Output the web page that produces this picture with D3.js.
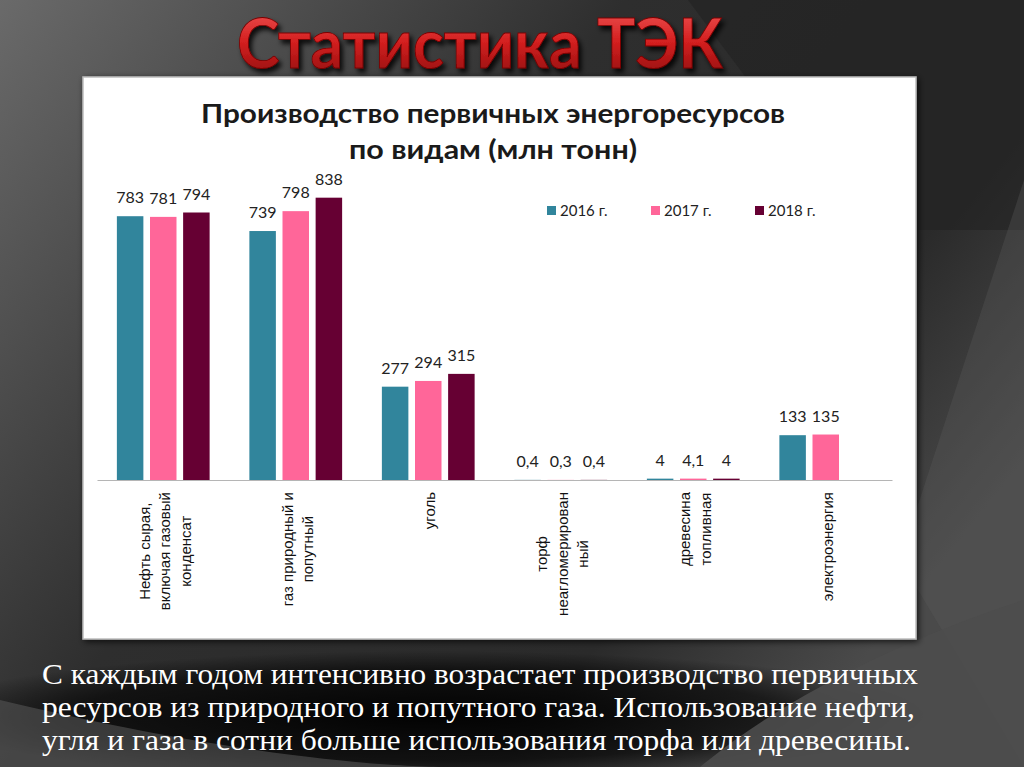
<!DOCTYPE html>
<html><head><meta charset="utf-8">
<script src="https://cdn.jsdelivr.net/npm/d3@7"></script>
<style>html,body{margin:0;padding:0;background:#333;overflow:hidden}</style>
</head><body>
<svg id="c" width="1024" height="767"></svg>
<script>
// ---- data ----
const categories = ["Нефть сырая, включая газовый конденсат","газ природный и попутный","уголь","торф неагломерированный","древесина топливная","электроэнергия"];
const categoryLines = [["Нефть сырая,","включая газовый","конденсат"],["газ природный и","попутный"],["уголь"],["торф","неагломерирован","ный"],["древесина","топливная"],["электроэнергия"]];
const years = ["2016 г.","2017 г.","2018 г."];
const values2016 = [783, 739, 277, 0.4, 4, 133];
const values2017 = [781, 798, 294, 0.3, 4.1, 135];
const values2018 = [794, 838, 315, 0.4, 4, null];
const seriesValues = [values2016, values2017, values2018];
const colors = ["#31859C", "#FF6699", "#660033"];
const slideTitle = "Статистика ТЭК";
const chartTitle = ["Производство первичных энергоресурсов", "по видам (млн тонн)"];
const paragraph = ["С каждым годом интенсивно возрастает производство первичных",
  "ресурсов из природного и попутного газа. Использование нефти,",
  "угля и газа в сотни больше использования торфа или древесины."];

const svg = d3.select("#c");
const defs = svg.append("defs");

// background gradients
const bg = defs.append("linearGradient").attr("id","bg").attr("x1","0").attr("y1","0").attr("x2","1").attr("y2","0.6");
bg.append("stop").attr("offset","0").attr("stop-color","#6a6a6a");
bg.append("stop").attr("offset","0.45").attr("stop-color","#2e2e2e");
bg.append("stop").attr("offset","0.8").attr("stop-color","#2a2a2a");
bg.append("stop").attr("offset","1").attr("stop-color","#4a4a4a");
const sw = defs.append("radialGradient").attr("id","sw").attr("cx","0.42").attr("cy","0.82").attr("r","0.5")
  .attr("gradientTransform","translate(0.42,0.82) scale(1,0.45) translate(-0.42,-0.82)");
sw.append("stop").attr("offset","0").attr("stop-color","#000").attr("stop-opacity","0.95");
sw.append("stop").attr("offset","0.7").attr("stop-color","#000").attr("stop-opacity","0.6");
sw.append("stop").attr("offset","1").attr("stop-color","#000").attr("stop-opacity","0");
const red = defs.append("linearGradient").attr("id","red").attr("x1","0").attr("y1","0").attr("x2","0").attr("y2","1");
red.append("stop").attr("offset","0").attr("stop-color","#f25a5a");
red.append("stop").attr("offset","0.5").attr("stop-color","#d42020");
red.append("stop").attr("offset","1").attr("stop-color","#8a0c0c");
const sh = defs.append("filter").attr("id","sh").attr("x","-10%").attr("y","-20%").attr("width","130%").attr("height","160%");
sh.append("feDropShadow").attr("dx",3).attr("dy",4).attr("stdDeviation",2.5).attr("flood-color","#000").attr("flood-opacity",0.85);
const psh = defs.append("filter").attr("id","psh").attr("x","-5%").attr("y","-5%").attr("width","110%").attr("height","110%");
psh.append("feDropShadow").attr("dx",2).attr("dy",2).attr("stdDeviation",3).attr("flood-color","#000").attr("flood-opacity",0.7);

svg.append("rect").attr("width",1024).attr("height",767).attr("fill","url(#bg)");
// dark diagonal top-right
svg.append("path").attr("d","M688,0 L1024,0 L1024,230 L860,230 Z").attr("fill","#202020").attr("opacity",0.55);
// lighter right strip lower
svg.append("path").attr("d","M1024,180 L900,560 L1024,767 Z").attr("fill","#5a5a5a").attr("opacity",0.35);
// bottom swoosh
svg.append("rect").attr("x",0).attr("y",480).attr("width",1024).attr("height",287).attr("fill","url(#sw)");
svg.append("path").attr("d","M0,700 C 250,760 400,767 450,767 L0,767 Z").attr("fill","#555").attr("opacity",0.6);
svg.append("path").attr("d","M1024,600 C 900,640 780,700 700,767 L1024,767 Z").attr("fill","#4c4c4c").attr("opacity",0.9);

// slide title
const st = svg.append("text").attr("x",480).attr("y",68).attr("text-anchor","middle")
  .attr("font-family","Lato, 'DejaVu Sans', sans-serif").attr("font-weight","bold").attr("font-size",68)
  .attr("fill","url(#red)").attr("stroke","#7a0000").attr("stroke-width",0.8)
  .attr("filter","url(#sh)").text(slideTitle);
st.attr("textLength",486).attr("lengthAdjust","spacingAndGlyphs");

// white panel
svg.append("rect").attr("x",83).attr("y",77).attr("width",833).attr("height",562)
  .attr("fill","#fff").attr("stroke","#bdbdbd").attr("stroke-width",1.5).attr("filter","url(#psh)");

// chart title
const ctY = [123, 159], ctW = [584, 288];
chartTitle.forEach((t,i)=>{
  svg.append("text").attr("x",493).attr("y",ctY[i]).attr("text-anchor","middle")
    .attr("font-family","Lato, 'Open Sans', sans-serif").attr("font-weight","bold").attr("font-size",27)
    .attr("fill","#1a1a1a").attr("textLength",ctW[i]).attr("lengthAdjust","spacingAndGlyphs").text(t);
});

// scales
const x0 = d3.scaleBand().domain(categories).range([97, 892]).padding(0);
const x1 = d3.scaleBand().domain(years).range([0, x0.bandwidth()]).paddingInner(0.2).paddingOuter(0.6);
const y = d3.scaleLinear().domain([0, 900]).range([480, 480 - 0.3369*900]);

const fmt = v => String(v).replace(".", ",");

const g = svg.append("g");
years.forEach((yr, si)=>{
  const data = categories.map((c,i)=>({c, v: seriesValues[si][i]})).filter(d=>d.v!==null);
  g.selectAll(null).data(data).enter().append("rect")
    .attr("x", d=>x0(d.c)+x1(yr)).attr("y", d=>y(d.v))
    .attr("width", x1.bandwidth()).attr("height", d=>y(0)-y(d.v))
    .attr("fill", colors[si]);
  g.selectAll(null).data(data).enter().append("text")
    .attr("x", d=>x0(d.c)+x1(yr)+x1.bandwidth()/2).attr("y", d=>y(d.v)-13)
    .attr("text-anchor","middle").attr("font-family","Lato, sans-serif").attr("font-size",16)
    .attr("fill","#222").text(d=>fmt(d.v));
});

// axis
const axis = svg.append("g").attr("transform","translate(0,480)")
  .call(d3.axisBottom(x0).tickSize(0).tickFormat(""));
axis.select(".domain").attr("stroke","#b5b5b5").attr("stroke-width",1.2);

// category labels (rotated)
categories.forEach((c,i)=>{
  const lines = categoryLines[i];
  const cx = x0(c) + x0.bandwidth()/2;
  const tmp = lines.map(l => svg.append("text").attr("font-family","'Liberation Sans', Arial, sans-serif").attr("font-size",15).text(l));
  const maxLen = d3.max(tmp, t=>t.node().getComputedTextLength());
  tmp.forEach(t=>t.remove());
  const n = lines.length;
  lines.forEach((l,j)=>{
    const bx = cx + 7 + (j - (n-1)/2)*20.5;
    const by = 492 + maxLen/2;
    svg.append("text").attr("transform",`translate(${bx},${by}) rotate(-90)`)
      .attr("text-anchor","middle").attr("font-family","'Liberation Sans', Arial, sans-serif")
      .attr("font-size",15).attr("fill","#111").text(l);
  });
});

// legend
const legX = [547, 651, 755];
years.forEach((yr,i)=>{
  svg.append("rect").attr("x",legX[i]).attr("y",206).attr("width",9).attr("height",9).attr("fill",colors[i]);
  svg.append("text").attr("x",legX[i]+13).attr("y",216).attr("font-family","Lato, sans-serif")
    .attr("font-size",15).attr("fill","#222").text(yr);
});

// paragraph
const pY = [684, 717, 750], pW = [876, 873, 869];
paragraph.forEach((t,i)=>{
  svg.append("text").attr("x",42).attr("y",pY[i]).attr("font-family","'Liberation Serif', serif")
    .attr("font-size",29.5).attr("fill","#fff").attr("textLength",pW[i]).attr("lengthAdjust","spacingAndGlyphs").text(t);
});
</script>
</body></html>
